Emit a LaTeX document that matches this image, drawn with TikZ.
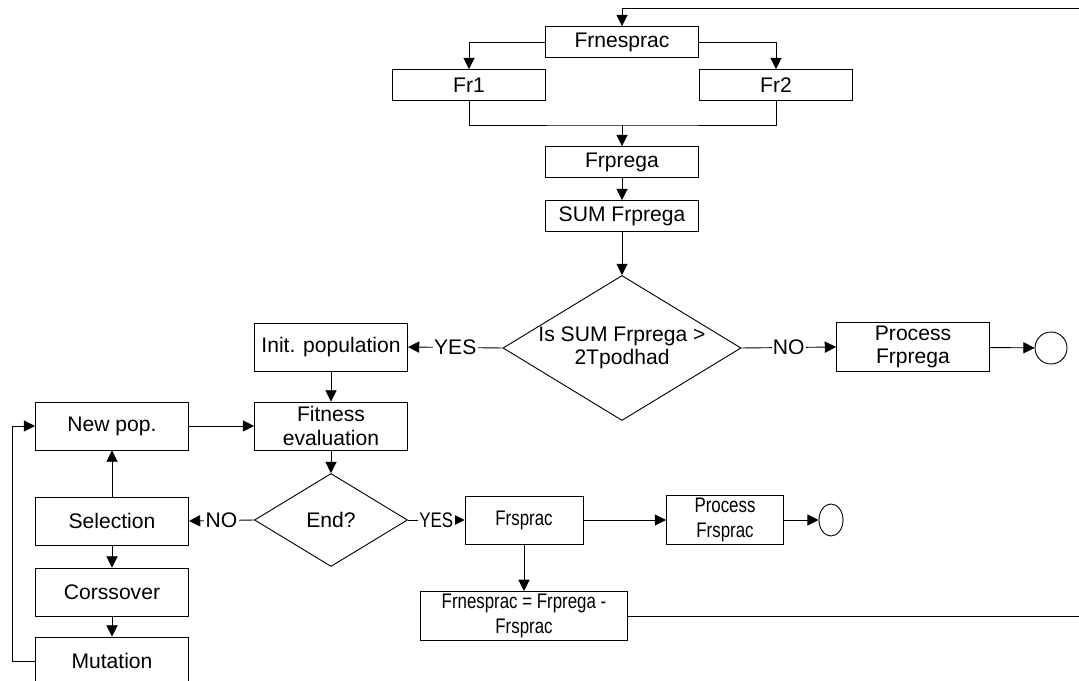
\documentclass[tikz,border=0pt]{standalone}
\usepackage{fontspec}
\setmainfont{Liberation Sans}
\newfontfamily\narrowfont[FakeStretch=0.8]{Liberation Sans}
\usetikzlibrary{arrows.meta, positioning, shapes.geometric, calc}
\tikzset{
  every picture/.style={line width=0.65pt},
  box/.style={draw, fill=white, align=center, inner sep=2pt, minimum width=#1, minimum height=1.2cm, font=\fontsize{15}{16.8}\selectfont},
  box/.default=3.825cm,
  thin box/.style={box=#1, minimum height=0.775cm},
  thin box/.default=3.825cm,
  condensed/.style={font=\narrowfont\fontsize{15}{17.5}\selectfont},
  dec/.style={draw, diamond, inner sep=0pt, font=\fontsize{15}{16.8}\selectfont},
  arrow/.style={-{Triangle[length=8pt, width=8pt]}},
  lbl/.style={fill=white, inner sep=1pt, font=\fontsize{15}{16.8}\selectfont},
  endpt/.style={draw, circle, minimum size=0.8cm, inner sep=0pt},
}
\begin{document}
\begin{tikzpicture}[x=0.025cm, y=-0.025cm]
  \useasboundingbox (0,0) rectangle (1079,681);
  \clip (0,0) rectangle (1079,681);
  % splitting the remainder
  \node[thin box] (fn) at (622,42) {Frnesprac};
  \node[thin box] (fr1) at (469,85) {Fr1};
  \node[thin box] (fr2) at (776,85) {Fr2};
  \node[thin box] (fp) at (622,162) {Frprega};
  \node[thin box] (sfp) at (622,216) {SUM Frprega};
  \node[dec, minimum width=5.95cm, minimum height=3.625cm] (q1) at (622,348) {};
  \node[align=center, font=\fontsize{15}{16.8}\selectfont] (q1t) at (q1) {Is SUM Frprega >\\2Tpodhad};
  \node[box] (ip) at (331,347) {Init. population};
  \node[box] (pfp) at (913,347) {Process\\Frprega};
  \node[endpt] (e1) at (1051,348) {};
  % genetic loop
  \node[box] (fe) at (331,426) {Fitness\\evaluation};
  \node[box] (np) at (112,426) {New pop.};
  \node[dec, minimum width=3.825cm, minimum height=2.325cm] (q2) at (331,520) {End?};
  \node[box] (sel) at (112,521) {Selection};
  \node[box] (cx) at (112,592) {Corssover};
  \node[box] (mu) at (112,661) {Mutation};
  % result
  \node[box=2.95cm, condensed] (fs) at (524,520) {Frsprac};
  \node[box=2.925cm, condensed] (pfs) at (725,520) {Process\\Frsprac};
  \node[draw, ellipse, minimum width=0.6cm, minimum height=0.8cm, inner sep=0pt] (e2) at (831,520) {};
  \node[box=5.175cm, condensed] (fx) at (524,616) {Frnesprac = Frprega -\\Frsprac};
  % connectors
  \draw[arrow] (fn.west) -| (fr1.north);
  \draw[arrow] (fn.east) -| (fr2.north);
  \coordinate (mj) at (622,125);
  \draw (fr1.south) |- (mj) -| (fr2.south);
  \draw[arrow] (mj) -- (fp.north);
  \draw[arrow] (fp) -- (sfp);
  \draw[arrow] (sfp) -- (q1);
  \draw[arrow] (q1.west) -- node[lbl] {YES} (ip.east);
  \draw[arrow] (q1.east) -- node[lbl] {NO} (pfp.west);
  \draw[arrow] (pfp) -- (e1);
  \draw[arrow] (ip) -- (fe);
  \draw[arrow] (np) -- (fe);
  \draw[arrow] (fe) -- (q2);
  \draw[arrow] (q2.west) -- node[lbl] {NO} (sel.east);
  \draw[arrow] (q2.east) -- node[lbl, condensed] {YES} (fs.west);
  \draw[arrow] (sel) -- (np);
  \draw[arrow] (sel) -- (cx);
  \draw[arrow] (cx) -- (mu);
  \draw[arrow] (mu.west) -- ++(-23,0) |- (np.west);
  \draw[arrow] (fs) -- (pfs);
  \draw[arrow] (pfs) -- (e2);
  \draw[arrow] (fs) -- (fx);
  \coordinate (rb) at (1095,616);
  \coordinate (rt) at (1095,8);
  \draw[arrow] (fx.east) -- (rb) -- (rt) -| (fn.north);
\end{tikzpicture}
\end{document}
